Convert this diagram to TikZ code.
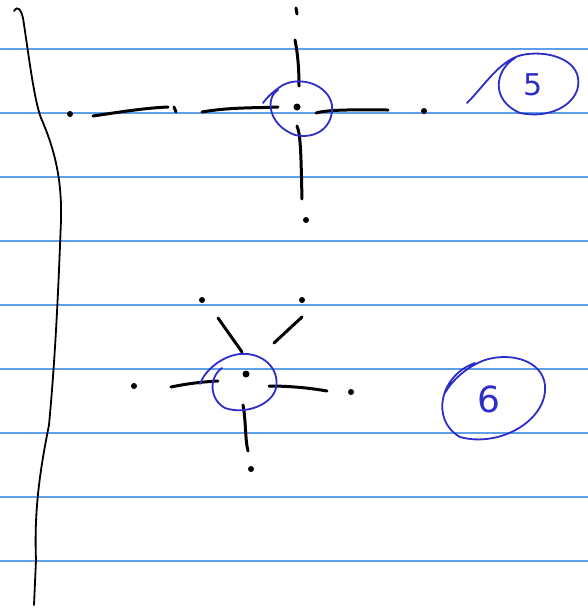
\documentclass[tikz,border=0pt]{standalone}
\usepackage{fontspec}
\setmainfont{DejaVu Sans}
\begin{document}
\begin{tikzpicture}[x=1pt,y=-1pt,
  rule/.style={draw={rgb,255:red,95;green,160;blue,235},line width=1.2pt},
  ink/.style={draw=black,line width=3pt,line cap=round},
  thin ink/.style={draw=black,line width=1.8pt,line cap=round},
  blueink/.style={draw={rgb,255:red,45;green,45;blue,200},line width=1.8pt,line cap=round},
  dot/.style={circle,fill=black,inner sep=0pt,minimum size=7pt},
  speck/.style={circle,fill=black,inner sep=0pt,minimum size=6pt},
  num/.style={text={rgb,255:red,45;green,45;blue,200},font=\fontsize{30}{30}\selectfont}]
\useasboundingbox (0,0) rectangle (588,608);
\fill[white] (0,0) rectangle (588,608);
% notebook rules
\foreach \y in {49,113,177,241,305,369,433,497,561}
  \draw[rule] (0,\y) -- (588,\y);
% margin line
\draw[thin ink] (14,11) .. controls (18,5) and (21,10) .. (23,18)
  .. controls (28,50) and (34,100) .. (41,118)
  .. controls (55,150) and (62,180) .. (61,220)
  .. controls (58,300) and (55,360) .. (49,425)
  .. controls (40,470) and (34,510) .. (36,560)
  -- (34,605);
% ---- figure 5 ----
\node[dot] (c5) at (297,107) {};
\coordinate (t5a) at (296,8);
\coordinate (t5b) at (297,14);
\draw[ink] (t5a) -- (t5b);
\node[speck] (b5) at (306,220) {};
\node[speck] (l5) at (70,114) {};
\node[speck] (r5) at (424,111) {};
\draw[ink] (295,40) .. controls (298,55) and (299,70) .. (299,86);
\draw[ink] (297,126) .. controls (301,135) and (301,160) .. (302,199);
\draw[ink] (202,112) .. controls (230,107) and (260,108) .. (278,107);
\draw[ink] (316,113) .. controls (330,109) and (360,110) .. (388,110);
\draw[ink] (93,116) .. controls (120,112) and (145,108) .. (168,107);
\draw[ink] (174,107) -- (176,112);
\draw[blueink] (278,90) .. controls (265,98) and (268,125) .. (295,135)
  .. controls (318,140) and (334,125) .. (332,105)
  .. controls (328,84) and (300,76) .. (283,85)
  .. controls (275,90) and (268,96) .. (263,103);
% label 5
\draw[blueink] (515,58) .. controls (495,70) and (490,100) .. (520,113)
  .. controls (555,120) and (582,100) .. (578,78)
  .. controls (575,58) and (545,50) .. (522,55)
  .. controls (500,60) and (485,85) .. (467,103);
\node[num] (n5) at (533,85) {5};
% ---- figure 6 ----
\node[dot] (c6) at (246,374) {};
\node[speck] (tl6) at (202,300) {};
\node[speck] (tr6) at (302,300) {};
\node[speck] (l6) at (134,386) {};
\node[speck] (r6) at (351,392) {};
\node[speck] (b6) at (251,469) {};
\draw[ink] (218,318) -- (242,352);
\draw[ink] (302,317) -- (274,343);
\draw[ink] (171,387) .. controls (185,384) and (200,382) .. (218,381);
\draw[ink] (269,386) .. controls (290,386) and (310,388) .. (327,391);
\draw[ink] (243,405) .. controls (246,420) and (245,440) .. (248,451);
\draw[blueink] (222,368) .. controls (208,378) and (210,400) .. (225,408)
  .. controls (245,415) and (272,405) .. (276,388)
  .. controls (280,368) and (262,352) .. (240,354)
  .. controls (222,356) and (205,370) .. (200,384);
% label 6
\draw[blueink] (475,363) .. controls (440,375) and (430,420) .. (460,437)
  .. controls (500,448) and (548,420) .. (545,385)
  .. controls (542,360) and (510,352) .. (485,360)
  .. controls (468,366) and (452,380) .. (445,393);
\node[num,font=\fontsize{36}{36}\selectfont] (n6) at (489,399) {6};
\end{tikzpicture}
\end{document}
